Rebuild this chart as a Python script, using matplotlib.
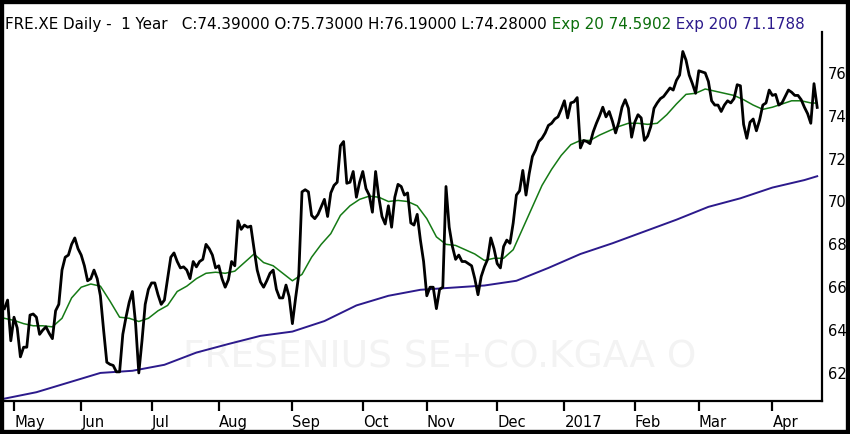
import matplotlib
matplotlib.use('Agg')
import matplotlib.pyplot as plt
import numpy as np
from matplotlib.patches import Rectangle

# ---------------- data ----------------
close = [
    65.0, 65.4, 63.5, 64.6, 64.1, 62.75, 63.2, 63.2, 64.7, 64.75,
    64.6, 63.8, 64.0, 64.15, 63.85, 63.6, 64.9, 65.2, 66.8, 67.4,
    67.5, 68.0, 68.3, 67.8, 67.5, 67.0, 66.3, 66.4, 66.8, 66.4,
    65.6, 64.0, 62.5, 62.4, 62.35, 62.05, 62.05, 63.8, 64.6, 65.3,
    65.8, 64.3, 62.0, 63.5, 65.2, 65.9, 66.2, 66.2, 65.65, 65.2,
    65.4, 66.4, 67.4,
    67.6, 67.2, 66.9, 66.95, 66.8, 66.4, 67.2,
    66.95, 67.2, 67.3, 68.0, 67.8, 67.5, 66.9, 67.0, 66.4, 66.0,
    66.35, 67.2, 67.0, 69.1, 68.7, 68.9, 68.8, 68.85, 67.8, 66.8,
    66.25, 66.0, 66.3, 66.65, 66.8, 65.9, 65.5, 65.5, 66.1, 65.55,
    64.3, 65.5, 66.6, 70.45, 70.55, 70.45, 69.35, 69.2, 69.4, 69.75,
    70.1, 69.3, 70.4, 70.75,
    70.9, 72.6, 72.8, 70.85, 70.9, 71.4,
    70.2, 70.9, 71.4, 70.6, 70.3, 69.5, 71.4, 70.2, 69.3, 68.95,
    69.8, 68.8, 70.2, 70.8, 70.7, 70.3, 70.4, 69.0, 68.9, 69.4,
    68.2, 67.2, 65.6, 66.0, 66.0, 65.0, 65.9, 66.0, 70.7, 68.8,
    67.9, 67.3, 67.5, 67.2, 67.2, 67.1, 67.0, 66.4, 65.65, 66.5,
    66.95, 67.3, 68.3, 67.8, 67.1, 66.9,
    67.9, 68.2, 68.05, 69.0,
    70.3, 70.5, 71.45, 70.3, 71.3, 72.1, 72.4, 72.8, 72.95, 73.2,
    73.55, 73.65, 73.85, 73.95, 74.3, 74.7, 73.9, 74.6, 74.65, 74.85,
    72.5, 72.85, 72.8, 72.7, 73.25, 73.65, 74.0, 74.4, 73.95, 74.2,
    73.75, 73.2, 73.7, 74.4, 74.75, 74.35, 73.0, 73.7, 74.05, 73.9,
    72.85, 73.05, 73.5, 74.35, 74.6, 74.8, 74.9,
    75.1, 75.3, 75.2,
    75.65, 75.9, 77.0, 76.6, 75.9, 75.5, 75.05, 76.1, 76.05, 76.0,
    75.6, 74.7, 74.5, 74.5, 74.2, 74.5, 74.7, 74.6, 74.8, 75.45,
    75.4, 73.6, 72.95, 73.7, 73.85, 73.3, 73.8, 74.5, 74.6, 75.2,
    74.95, 75.0, 74.5, 74.6, 74.9, 75.2, 75.1, 74.95, 74.95, 74.75,
    74.4, 74.1, 73.65, 75.5, 74.39,
]

ema20_day = list(range(0, 253, 3)) + [254]
ema20 = [
    64.55, 64.45, 64.3, 64.2, 64.2, 64.15, 64.55, 65.5, 66.0, 66.15,
    66.05, 65.35, 64.6, 64.55, 64.4, 64.55, 64.9, 65.15, 65.8, 66.05,
    66.4, 66.65, 66.7, 66.65, 66.75, 67.15, 67.55, 67.15, 67.0, 66.65,
    66.3, 66.6, 67.4, 68.0, 68.5, 69.35, 69.8, 70.1, 70.25, 70.2,
    70.0, 70.05, 70.0, 69.8, 69.2, 68.35, 68.0, 67.95, 67.75, 67.55,
    67.25, 67.35, 67.35, 67.75, 68.75, 69.75, 70.75, 71.5, 72.15, 72.65,
    72.85, 72.85, 73.1, 73.3, 73.5, 73.65, 73.65, 73.6, 73.65, 74.05,
    74.55, 75.0, 75.05, 75.25, 75.15, 75.05, 74.95, 74.75, 74.5, 74.3,
    74.4, 74.55, 74.7, 74.7, 74.6, 74.59,
]

ema200_day = list(range(0, 251, 10)) + [254]
ema200 = [
    60.8, 61.1, 61.55, 62.0, 62.1, 62.38, 62.95, 63.35, 63.73, 63.93,
    64.42, 65.15, 65.6, 65.88, 65.98, 66.08, 66.3, 66.9, 67.55, 68.05,
    68.6, 69.15, 69.75, 70.15, 70.65, 71.0, 71.18,
]

month_day = [3, 24, 46, 67, 90, 112, 132, 154, 175, 197, 217, 240]
month_label = ['May', 'Jun', 'Jul', 'Aug', 'Sep', 'Oct', 'Nov', 'Dec',
               '2017', 'Feb', 'Mar', 'Apr']
y_ticks = [62, 64, 66, 68, 70, 72, 74, 76]

title_main = "FRE.XE Daily -  1 Year   C:74.39000 O:75.73000 H:76.19000 L:74.28000"
title_ema20 = " Exp 20 74.5902"
title_ema200 = " Exp 200 71.1788"
watermark = "FRESENIUS SE+CO.KGAA O"

# ---------------- styling ----------------
GREEN = '#157a15'
PURPLE = '#2c1a8c'
W, H = 850, 434
TFS = 10.9   # title font size
LFS = 10.6   # tick label font size

fig = plt.figure(figsize=(W / 100, H / 100), dpi=100, facecolor='white')
ax = fig.add_axes([4 / W, (H - 401) / H, (822 - 4) / W, (401 - 32) / H])
ax.set_facecolor('white')

days = np.arange(len(close))
ax.text(440 / W, 1 - 357 / H, watermark, transform=fig.transFigure,
        ha='center', va='center', fontsize=27, color='#f3f3f3', zorder=0)
ax.plot(ema200_day, ema200, color=PURPLE, lw=1.4, zorder=2)
ax.plot(ema20_day, ema20, color=GREEN, lw=1.1, zorder=3)
ax.plot(days, close, color='black', lw=2.0, zorder=4)

ax.set_xlim(-0.125, 255.5)
ax.set_ylim(60.69, 77.91)

for s in ['left', 'top']:
    ax.spines[s].set_visible(False)
for s in ['right', 'bottom']:
    ax.spines[s].set_linewidth(1.6)
    ax.spines[s].set_color('black')

ax.yaxis.tick_right()
ax.set_yticks(y_ticks)
ax.set_yticklabels([str(v) for v in y_ticks])
ax.tick_params(axis='y', length=0, pad=4, labelsize=LFS, labelcolor='black')

ax.set_xticks(month_day)
ax.set_xticklabels(month_label)
for lbl in ax.get_xticklabels():
    lbl.set_horizontalalignment('left')
ax.tick_params(axis='x', length=7, width=1.6, direction='out', pad=3,
               labelsize=LFS, labelcolor='black')

# title in three colours
t1 = fig.text(5 / W, 1 - 29 / H, title_main, fontsize=TFS, color='black',
              va='baseline', ha='left')
t2 = ax.annotate(title_ema20, xy=(1, 1 - 29 / H), xycoords=(t1, 'figure fraction'),
                 va='baseline', ha='left', fontsize=TFS, color='#0b6e0b',
                 annotation_clip=False)
t3 = ax.annotate(title_ema200, xy=(1, 1 - 29 / H), xycoords=(t2, 'figure fraction'),
                 va='baseline', ha='left', fontsize=TFS, color=PURPLE,
                 annotation_clip=False)

# outer black frame
fig.patches.append(Rectangle((0, 0), 1, 1, transform=fig.transFigure,
                             fill=False, ec='black', lw=6, zorder=10))

fig.savefig('out.png', dpi=100, facecolor='white')
